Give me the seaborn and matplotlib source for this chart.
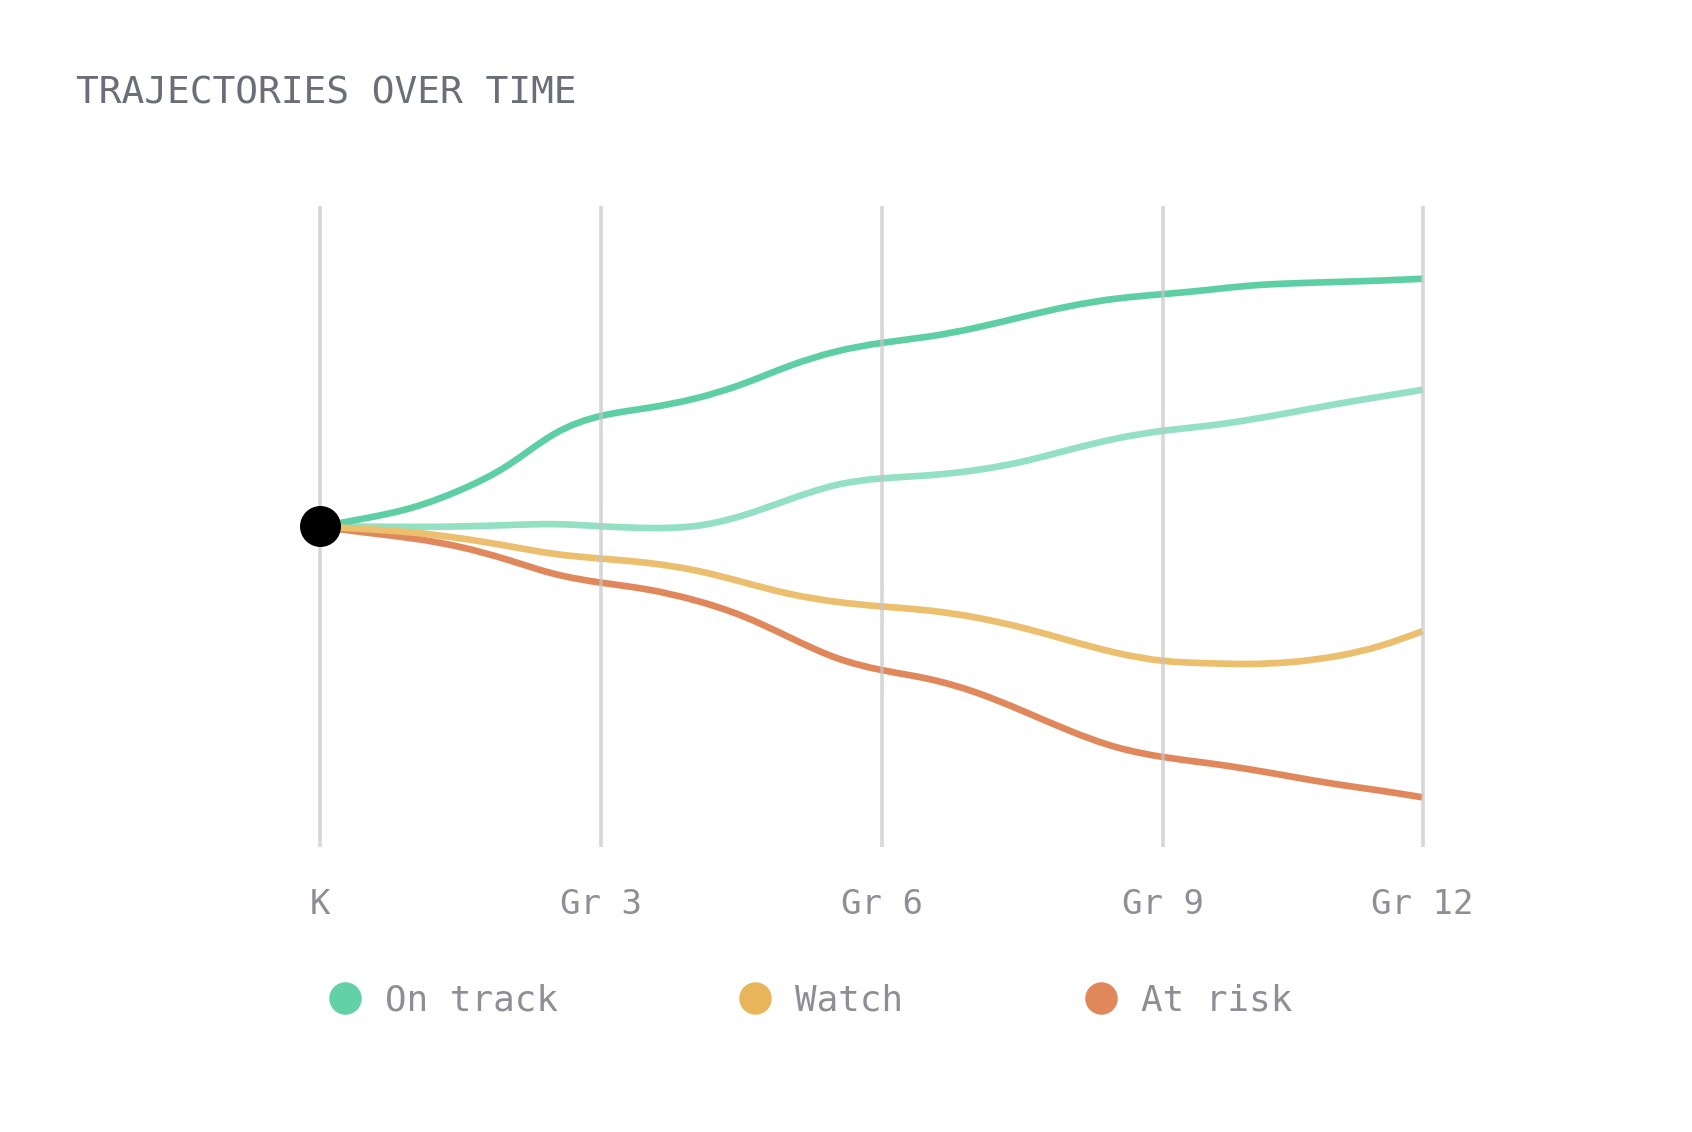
import numpy as np
import matplotlib
matplotlib.use("Agg")
import matplotlib.pyplot as plt
from matplotlib.path import Path
from matplotlib.patches import PathPatch
from matplotlib.lines import Line2D
import seaborn as sns

# half-grade positions along the time axis (the Gr 9 -> Gr 12 stretch is drawn shorter)
grade_pos = [0, 0.5, 1, 1.5, 2, 2.5, 3, 3.5, 4, 4.5, 5, 5.5, 6, 6.5, 7, 7.5, 8, 8.5, 9,
             9.46, 9.92, 10.38, 10.85, 11.31, 11.77]
tick_pos = [0, 3, 6, 9, 11.77]
tick_labels = ["K", "Gr 3", "Gr 6", "Gr 9", "Gr 12"]

# trajectory values (0 = bottom, 100 = top)
on_track_high = [50.0, 51.3, 52.8, 55.6, 59.1, 65.0, 67.5, 68.4, 69.8, 72.0, 75.1, 77.4, 78.7,
                 79.5, 80.9, 82.7, 84.4, 85.6, 86.2, 86.8, 87.6, 87.9, 88.1, 88.3, 88.6]
on_track_low = [50.0, 50.0, 49.9, 50.0, 50.2, 50.5, 50.0, 49.7, 49.8, 51.5, 54.2, 56.7, 57.6,
                57.9, 58.7, 60.0, 62.0, 63.8, 65.0, 65.6, 66.6, 67.8, 69.1, 70.2, 71.3]
watch = [50.0, 49.6, 49.1, 48.2, 47.0, 45.6, 45.0, 44.4, 43.3, 41.4, 39.4, 38.2, 37.5,
         37.0, 35.9, 34.3, 32.2, 30.2, 28.9, 28.7, 28.5, 28.8, 29.7, 31.2, 33.7]
at_risk = [50.0, 49.0, 48.2, 46.9, 44.9, 42.4, 41.2, 40.3, 38.6, 36.3, 32.8, 29.3, 27.5,
           26.4, 24.3, 21.3, 18.1, 15.4, 14.0, 13.2, 12.2, 11.0, 9.8, 8.9, 7.8]

legend_labels = ["On track", "Watch", "At risk"]
legend_colors = ["#62d1a7", "#e8b55a", "#e0885c"]


def smooth_path(xs, ys):
    # cubic b-spline through the read points (like d3 curveBasis), as bezier segments
    p = np.column_stack([xs, ys]).astype(float)
    n = len(p)
    q = np.vstack([p[0], p, p[-1]])
    verts = [p[0], (5 * p[0] + p[1]) / 6]
    codes = [Path.MOVETO, Path.LINETO]
    for i in range(1, len(q) - 2):
        a, b, c, d = q[i - 1], q[i], q[i + 1], q[i + 2]
        verts += [(2 * b + c) / 3, (b + 2 * c) / 3, (b + 4 * c + d) / 6]
        codes += [Path.CURVE4] * 3
    verts.append(p[-1])
    codes.append(Path.LINETO)
    return Path(verts, codes)


sns.set_theme(style="white")
plt.rcParams['font.family'] = ['DejaVu Sans Mono', 'DejaVu Sans']

fig = plt.figure(figsize=(16.92, 11.32), dpi=100)
ax = fig.add_axes([0.1893, 0.2514, 0.6515, 0.567])
ax.set_xlim(0, 11.77)
ax.set_ylim(0, 100)

series = [
    (at_risk, "#e0885b"),
    (on_track_low, "#93e0c5"),
    (on_track_high, "#5ecfa5"),
    (watch, "#ebbf6e"),
]
for vals, col in series:
    patch = PathPatch(smooth_path(grade_pos, vals), facecolor="none", edgecolor=col,
                      lw=4.8, capstyle="butt", joinstyle="round", zorder=2, clip_on=False)
    ax.add_patch(patch)

ax.vlines(tick_pos, 0, 100, colors="#c6c6c6", alpha=0.7, lw=2.6, zorder=3, clip_on=False)

sns.scatterplot(x=[0], y=[50], s=870, color="black", linewidth=0, zorder=5,
                clip_on=False, legend=False, ax=ax)

for sp in ax.spines.values():
    sp.set_visible(False)
ax.set_yticks([])
ax.set_xticks(tick_pos, tick_labels)
ax.tick_params(axis="x", length=0, pad=29, labelsize=24.5, labelcolor="#8e8f96")
ax.set_xlabel("")
ax.set_ylabel("")
ax.grid(False)

fig.text(0.0448, 0.9083, "TRAJECTORIES OVER TIME", fontsize=27.3, color="#6b6e78",
         va="baseline", ha="left")

handles = [Line2D([], [], marker="o", linestyle="", markersize=23.4,
                  markerfacecolor=c, markeredgewidth=0) for c in legend_colors]
fig.legend(handles, legend_labels, loc="center left", bbox_to_anchor=(0.1934, 0.1165),
           ncol=3, frameon=False, handlelength=1.0, handletextpad=0.62,
           columnspacing=5.0, borderpad=0, borderaxespad=0, fontsize=25.8,
           labelcolor="#8e8f96")

fig.savefig("out.png", dpi=100, facecolor="white")
